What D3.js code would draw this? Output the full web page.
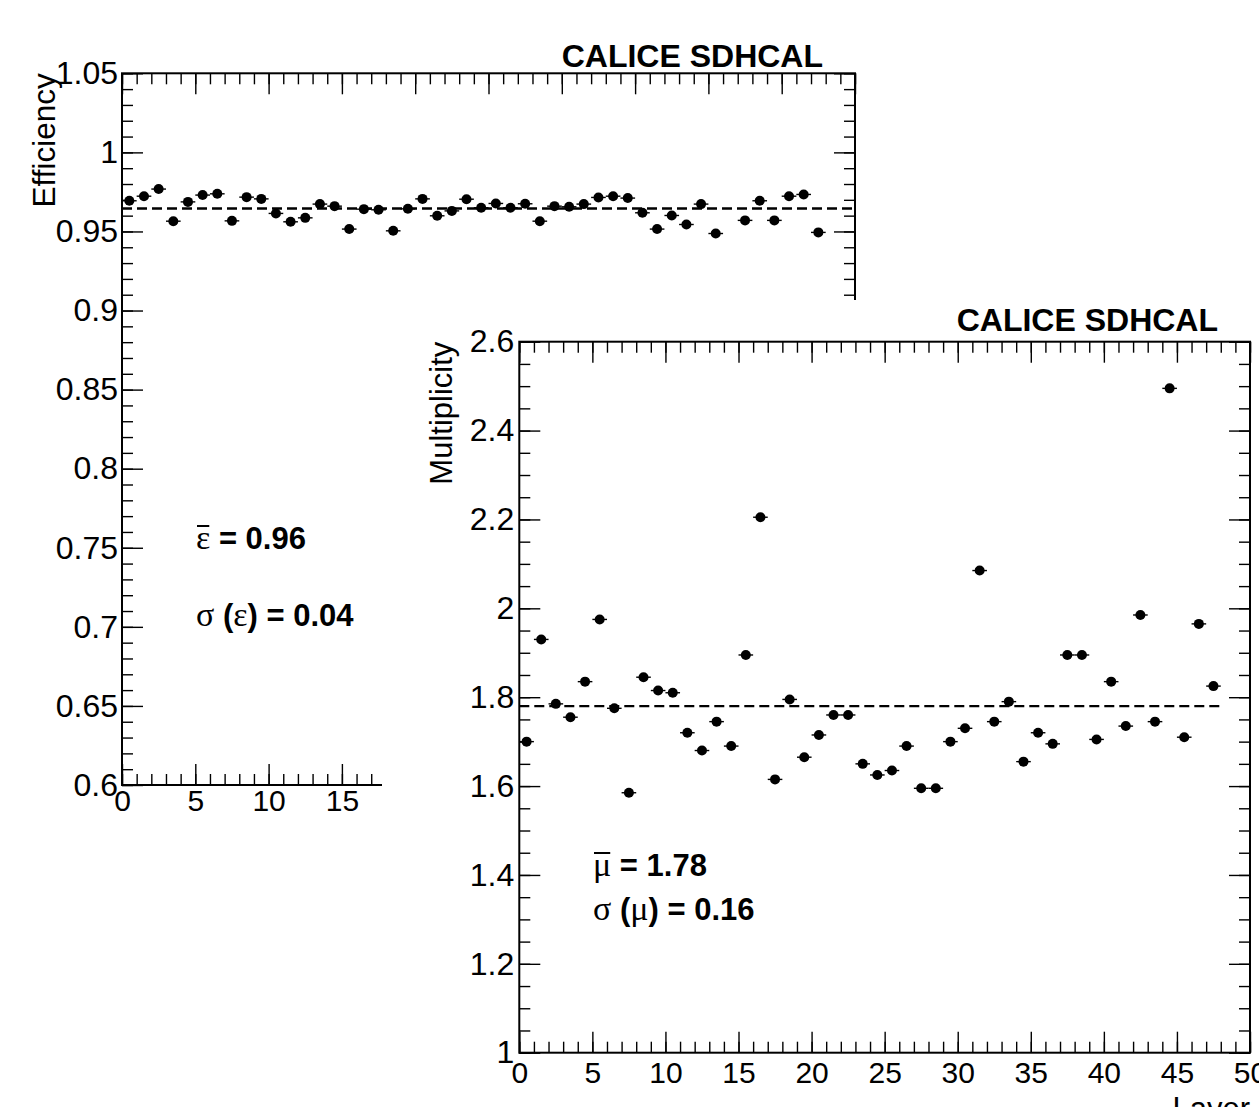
<!DOCTYPE html>
<html><head><meta charset="utf-8">
<script src="https://cdn.jsdelivr.net/npm/d3@7"></script>
<style>
body{margin:0;background:#fff}
svg{display:block}
text{font-family:"Liberation Sans",Arial,Helvetica,sans-serif;fill:#000}
</style>
</head><body>
<svg id="c" width="1259" height="1107"></svg>
<script>
// ---------------- data ----------------
const layers = d3.range(48).map(i => i + 0.5);
const efficiency = [0.9694,0.9723,0.9768,0.9565,0.9687,0.9730,0.9738,0.9567,0.9717,0.9706,
  0.9614,0.9561,0.9586,0.9673,0.9660,0.9515,0.9641,0.9637,0.9504,0.9643,
  0.9706,0.9599,0.9630,0.9704,0.9650,0.9677,0.9650,0.9675,0.9565,0.9660,
  0.9656,0.9673,0.9715,0.9723,0.9711,0.9618,0.9515,0.9601,0.9544,0.9673,
  0.9487,null,0.9570,0.9694,0.9570,0.9723,0.9734,0.9494];
const multiplicity = [1.70,1.93,1.785,1.755,1.835,1.975,1.775,1.585,1.845,1.815,
  1.81,1.72,1.68,1.745,1.69,1.895,2.205,1.615,1.795,1.665,
  1.715,1.76,1.76,1.65,1.625,1.635,1.69,1.595,1.595,1.70,
  1.73,2.085,1.745,1.79,1.655,1.72,1.695,1.895,1.895,1.705,
  1.835,1.735,1.985,1.745,2.495,1.71,1.965,1.825];
const effMean = 0.9645;
const mulMean = 1.78;
const xMajor = [0,5,10,15,20,25,30,35,40,45,50];
const xLabels = ["0","5","10","15","20","25","30","35","40","45","50"];
const effMajor = [0.6,0.65,0.7,0.75,0.8,0.85,0.9,0.95,1.0,1.05];
const effLabels = ["0.6","0.65","0.7","0.75","0.8","0.85","0.9","0.95","1","1.05"];
const mulMajor = [1,1.2,1.4,1.6,1.8,2,2.2,2.4,2.6];
const mulLabels = ["1","1.2","1.4","1.6","1.8","2","2.2","2.4","2.6"];
const titleText = "CALICE SDHCAL";

// ---------------- drawing ----------------
const svg = d3.select("#c");
svg.append("rect").attr("width",1259).attr("height",1107).attr("fill","#fff");

function panel(cfg){
  const g = svg.append("g");
  const x = d3.scaleLinear().domain([0,50]).range([cfg.x0,cfg.x1]);
  const y = d3.scaleLinear().domain(cfg.yDomain).range([cfg.y1,cfg.y0]);
  const xMinor = d3.range(0,50.001,1);
  const yMinor = d3.range(cfg.yDomain[0], cfg.yDomain[1]+1e-9, cfg.yMinorStep).map(v=>+v.toFixed(4));
  const MAJ = 21, MIN = 11;
  function styleAxis(sel, size){
    sel.select(".domain").remove();
    sel.selectAll("line").attr("stroke","#000").attr("stroke-width",1.4);
    sel.selectAll("text").style("font-size",(size||30)+"px").attr("fill","#000")
      .style("font-family",'"Liberation Sans",Arial,sans-serif');
  }
  // bottom
  g.append("g").attr("transform",`translate(0,${cfg.y1})`)
    .call(d3.axisBottom(x).tickValues(xMinor).tickSize(-MIN).tickFormat("")).call(styleAxis);
  g.append("g").attr("transform",`translate(0,${cfg.y1})`)
    .call(d3.axisBottom(x).tickValues(xMajor).tickSize(-MAJ).tickPadding(cfg.xPad)
      .tickFormat((d,i)=>xLabels[i])).call(s=>styleAxis(s,cfg.xLabelSize));
  // top
  g.append("g").attr("transform",`translate(0,${cfg.y0})`)
    .call(d3.axisTop(x).tickValues(xMinor).tickSize(-MIN).tickFormat("")).call(styleAxis);
  g.append("g").attr("transform",`translate(0,${cfg.y0})`)
    .call(d3.axisTop(x).tickValues(xMajor).tickSize(-MAJ).tickFormat("")).call(styleAxis);
  // left
  g.append("g").attr("transform",`translate(${cfg.x0},0)`)
    .call(d3.axisLeft(y).tickValues(yMinor).tickSize(-MIN).tickFormat("")).call(styleAxis);
  g.append("g").attr("transform",`translate(${cfg.x0},0)`)
    .call(d3.axisLeft(y).tickValues(cfg.yMajor).tickSize(-MAJ).tickPadding(cfg.yPad)
      .tickFormat((d,i)=>cfg.yLabels[i])).call(s=>styleAxis(s,cfg.yLabelSize));
  // right
  g.append("g").attr("transform",`translate(${cfg.x1},0)`)
    .call(d3.axisRight(y).tickValues(yMinor).tickSize(-MIN).tickFormat("")).call(styleAxis);
  g.append("g").attr("transform",`translate(${cfg.x1},0)`)
    .call(d3.axisRight(y).tickValues(cfg.yMajor).tickSize(-MAJ).tickFormat("")).call(styleAxis);
  // frame
  g.append("rect").attr("x",cfg.x0).attr("y",cfg.y0)
    .attr("width",cfg.x1-cfg.x0).attr("height",cfg.y1-cfg.y0)
    .attr("fill","none").attr("stroke","#000").attr("stroke-width",2);
  // mean line
  g.append("line").attr("x1",x(0)).attr("x2",x(cfg.meanEnd))
    .attr("y1",y(cfg.mean)).attr("y2",y(cfg.mean))
    .attr("stroke","#000").attr("stroke-width",2.4).attr("stroke-dasharray","10,5");
  // points
  const pts = layers.map((l,i)=>({l, v:cfg.values[i]})).filter(d=>d.v!=null);
  g.selectAll(".eb").data(pts).enter().append("line")
    .attr("x1",d=>x(d.l-0.5)).attr("x2",d=>x(d.l+0.5))
    .attr("y1",d=>y(d.v)).attr("y2",d=>y(d.v))
    .attr("stroke","#000").attr("stroke-width",1.4);
  g.selectAll(".pt").data(pts).enter().append("circle")
    .attr("cx",d=>x(d.l)).attr("cy",d=>y(d.v)).attr("r",5).attr("fill","#000");
  // title
  g.append("text").attr("x",cfg.x1-32).attr("y",cfg.titleY).attr("text-anchor","end")
    .style("font-size","32px").style("font-weight","bold").text(titleText);
  // y title
  g.append("text").attr("transform",`translate(${cfg.x0-67},${cfg.y0}) rotate(-90)`)
    .attr("text-anchor","end").style("font-size",cfg.titleSize+"px").text(cfg.yTitle);
  if(cfg.xTitle){
    g.append("text").attr("x",cfg.x1).attr("y",cfg.y1+66).attr("text-anchor","end")
      .style("font-size",cfg.titleSize+"px").text(cfg.xTitle);
  }
  return {g,x,y};
}

function annot(xp, yp, parts, barFirst){
  const t = svg.append("text").attr("x",xp).attr("y",yp);
  parts.forEach(p=>{
    t.append("tspan").text(p.s)
      .style("font-family", p.greek ? '"Liberation Serif","DejaVu Serif",serif' : '"Liberation Sans",Arial,sans-serif')
      .style("font-weight", p.greek ? "normal" : "bold")
      .style("font-size", (p.greek?34:31)+"px");
  });
  if(barFirst){
    const e = t.node().getExtentOfChar(0);
    svg.append("line").attr("x1",e.x+1).attr("x2",e.x+e.width-1)
      .attr("y1",yp-23).attr("y2",yp-23).attr("stroke","#000").attr("stroke-width",2);
  }
}

// Efficiency (back pad)
panel({x0:122,x1:855,y0:73.3,y1:785,yDomain:[0.6,1.05],yMinorStep:0.01,
  yMajor:effMajor,yLabels:effLabels,values:efficiency,mean:effMean,meanEnd:50,
  xLabelSize:30,yLabelSize:32,titleSize:31.5,xPad:5,yPad:4,yTitle:"Efficiency",xTitle:null,titleY:67});
annot(196,549,[{s:"ε",greek:true},{s:" = 0.96"}],true);
annot(196,626,[{s:"σ",greek:true},{s:" ("},{s:"ε",greek:true},{s:") = 0.04"}],false);

// Multiplicity (front pad)
svg.append("rect").attr("x",382).attr("y",300).attr("width",877).attr("height",807).attr("fill","#fff");
panel({x0:519.3,x1:1250,y0:341.7,y1:1052.7,yDomain:[1,2.6],yMinorStep:0.05,
  yMajor:mulMajor,yLabels:mulLabels,values:multiplicity,mean:mulMean,meanEnd:48,
  xLabelSize:30,yLabelSize:32,titleSize:31,xPad:9,yPad:5,yTitle:"Multiplicity",xTitle:"Layer",titleY:331});
annot(593,876,[{s:"μ",greek:true},{s:" = 1.78"}],true);
annot(593,920,[{s:"σ",greek:true},{s:" ("},{s:"μ",greek:true},{s:") = 0.16"}],false);
</script>
</body></html>
